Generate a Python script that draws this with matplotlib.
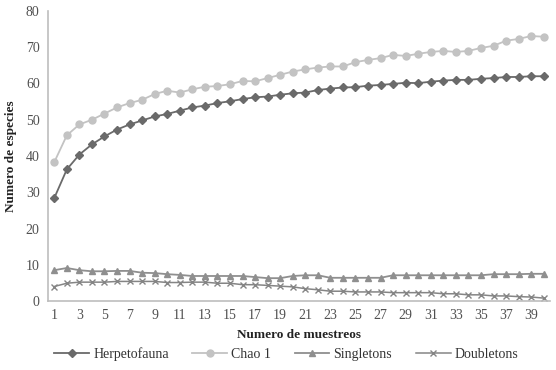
import numpy as np
from matplotlib import pyplot as plt

plt.rcParams['font.family'] = ['Liberation Serif', 'DejaVu Serif']

# species accumulation curves
muestreos = np.arange(1, 41)

herpetofauna = [28.4, 36.3, 40.4, 43.2, 45.4, 47.3, 48.7, 49.8, 50.9, 51.6,
                52.5, 53.4, 53.9, 54.6, 55.1, 55.7, 56.2, 56.4, 56.9, 57.3,
                57.5, 58.2, 58.6, 58.9, 59.0, 59.4, 59.6, 59.9, 60.2, 60.1,
                60.5, 60.8, 61.0, 61.0, 61.3, 61.5, 61.8, 61.8, 62.0, 62.0]

chao1 = [38.3, 45.7, 48.7, 50.0, 51.7, 53.4, 54.6, 55.5, 57.1, 58.0,
         57.5, 58.4, 59.1, 59.3, 59.8, 60.7, 60.6, 61.5, 62.4, 63.3,
         63.9, 64.4, 64.7, 64.7, 65.9, 66.5, 67.0, 67.9, 67.6, 68.2,
         68.7, 69.0, 68.7, 69.0, 69.8, 70.4, 71.8, 72.3, 73.1, 72.9]

singletons = [8.5, 9.1, 8.5, 8.2, 8.2, 8.3, 8.3, 7.8, 7.7, 7.4,
              7.2, 6.9, 6.9, 6.9, 6.9, 6.9, 6.6, 6.3, 6.3, 6.9,
              7.1, 7.1, 6.4, 6.4, 6.4, 6.4, 6.4, 7.1, 7.1, 7.1,
              7.1, 7.1, 7.1, 7.1, 7.1, 7.4, 7.4, 7.4, 7.5, 7.5]

doubletons = [4.0, 4.9, 5.2, 5.2, 5.2, 5.4, 5.4, 5.4, 5.4, 5.1,
              5.1, 5.2, 5.2, 4.9, 4.9, 4.5, 4.5, 4.3, 4.1, 3.9,
              3.4, 3.1, 2.7, 2.7, 2.5, 2.5, 2.5, 2.3, 2.3, 2.3,
              2.3, 2.0, 2.0, 1.7, 1.7, 1.4, 1.4, 1.2, 1.1, 0.8]

fig = plt.figure(figsize=(5.56, 3.70), dpi=100)
ax = fig.add_axes([48/556, 1 - 301/370, 502/556, 290/370])

ax.plot(muestreos, herpetofauna, color='#6a6a6a', lw=1.3, marker='D', ms=3.8, label='Herpetofauna')
ax.plot(muestreos, chao1, color='#c3c3c3', lw=1.3, marker='o', ms=5, label='Chao 1')
ax.plot(muestreos, singletons, color='#8f8f8f', lw=1.3, marker='^', ms=5, label='Singletons')
ax.plot(muestreos, doubletons, color='#858585', lw=1.1, marker='x', ms=5, mew=1, label='Doubletons')

ax.set_xlim(0.5, 40.5)
ax.set_ylim(0, 80)
ax.set_xticks(np.arange(1, 41, 2))
ax.set_yticks(np.arange(0, 81, 10))
ax.tick_params(length=0, labelsize=10, colors='#505050', pad=6)
for s in ['top', 'right']:
    ax.spines[s].set_visible(False)
for s in ['left', 'bottom']:
    ax.spines[s].set_color('#bdbdbd')
    ax.spines[s].set_linewidth(1.2)

ax.set_xlabel('Numero de muestreos', fontsize=9.5, fontweight='bold', color='#222222', labelpad=5)
ax.set_ylabel('Numero de especies', fontsize=9.5, fontweight='bold', color='#222222', labelpad=6)

fig.legend(loc='lower center', bbox_to_anchor=(0.515, -0.01), ncol=4, frameon=False,
           fontsize=10, handlelength=2.5, columnspacing=1.7, handletextpad=0.3,
           labelcolor='#333333')

fig.savefig('out.png', dpi=100)
